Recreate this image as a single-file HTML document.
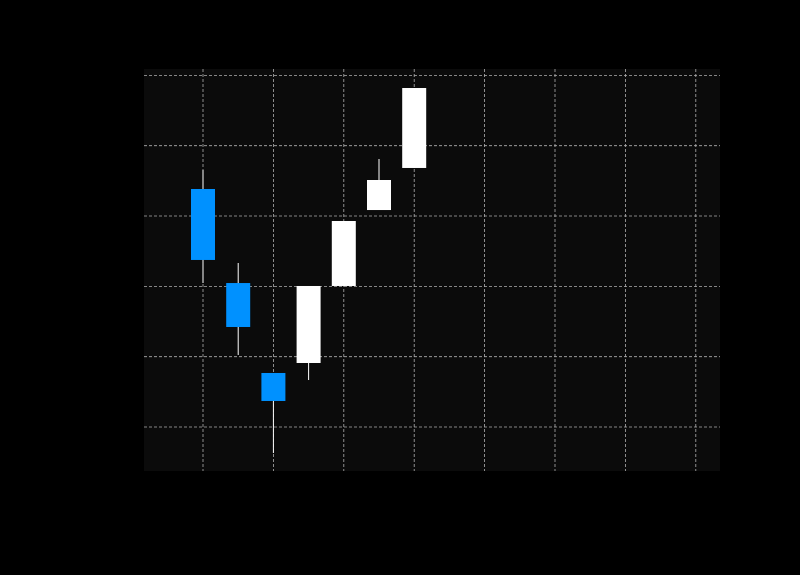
<!DOCTYPE html>
<html>
<head>
<meta charset="utf-8">
<style>
  html, body { margin: 0; padding: 0; background: #000; }
  body { width: 800px; height: 575px; overflow: hidden; font-family: "Liberation Sans", sans-serif; }
  svg { display: block; }
</style>
</head>
<body>
<svg id="chart" width="800" height="575" xmlns="http://www.w3.org/2000/svg">
  <rect x="0" y="0" width="800" height="575" fill="#000"/>
  <rect x="144" y="69" width="576" height="402" fill="#0b0b0b"/>
  <g id="grid"></g>
  <g id="candles"></g>
</svg>
<script>
const opens  = [43.84, 30.47, 17.68, 19.10, 30.05, 40.85, 46.83];
const closes = [33.75, 24.22, 13.70, 30.05, 39.29, 45.12, 58.20];
const highs  = [46.54, 33.32, 17.68, 30.05, 39.29, 48.11, 58.20];
const lows   = [30.47, 20.24, 6.30, 16.68, 30.05, 40.85, 46.83];
const xGridTicks = [0, 2, 4, 6, 8, 10, 12, 14];
const yGridTicks = [10, 20, 30, 40, 50, 60];

const NS = 'http://www.w3.org/2000/svg';
function xScale(i) { return 203 + i * 35.2; }
function yScale(v) { return 427 - (v - 10) * 7.033; }

const grid = document.getElementById('grid');
xGridTicks.forEach(t => {
  const l = document.createElementNS(NS, 'line');
  
  
  l.setAttribute('x1', xScale(t)); l.setAttribute('x2', xScale(t));
  l.setAttribute('y1', 69); l.setAttribute('y2', 471);
  l.setAttribute('stroke', '#b0b0b0'); l.setAttribute('stroke-width', '0.8');
  l.setAttribute('stroke-dasharray', '3,2');
  grid.appendChild(l);
});
yGridTicks.forEach(t => {
  const l = document.createElementNS(NS, 'line');
  
  
  l.setAttribute('x1', 144); l.setAttribute('x2', 720);
  l.setAttribute('y1', yScale(t)); l.setAttribute('y2', yScale(t));
  l.setAttribute('stroke', '#b0b0b0'); l.setAttribute('stroke-width', '0.8');
  l.setAttribute('stroke-dasharray', '3,2');
  grid.appendChild(l);
});

const cg = document.getElementById('candles');
const bw = 24;
opens.forEach((o, i) => {
  const c = closes[i];
  const up = c >= o;
  const color = up ? '#ffffff' : '#0091ff';
  const cx = xScale(i);
  const w = document.createElementNS(NS, 'line');
  
  
  w.setAttribute('x1', cx); w.setAttribute('x2', cx);
  w.setAttribute('y1', yScale(highs[i])); w.setAttribute('y2', yScale(lows[i]));
  w.setAttribute('stroke', '#ffffff'); w.setAttribute('stroke-width', '1');
  cg.appendChild(w);
  const r = document.createElementNS(NS, 'rect');
  
  
  const top = yScale(Math.max(o, c)), bot = yScale(Math.min(o, c));
  r.setAttribute('x', cx - bw / 2); r.setAttribute('y', top);
  r.setAttribute('width', bw); r.setAttribute('height', Math.max(1, bot - top));
  r.setAttribute('fill', color);
  cg.appendChild(r);
});
</script>
</body>
</html>
